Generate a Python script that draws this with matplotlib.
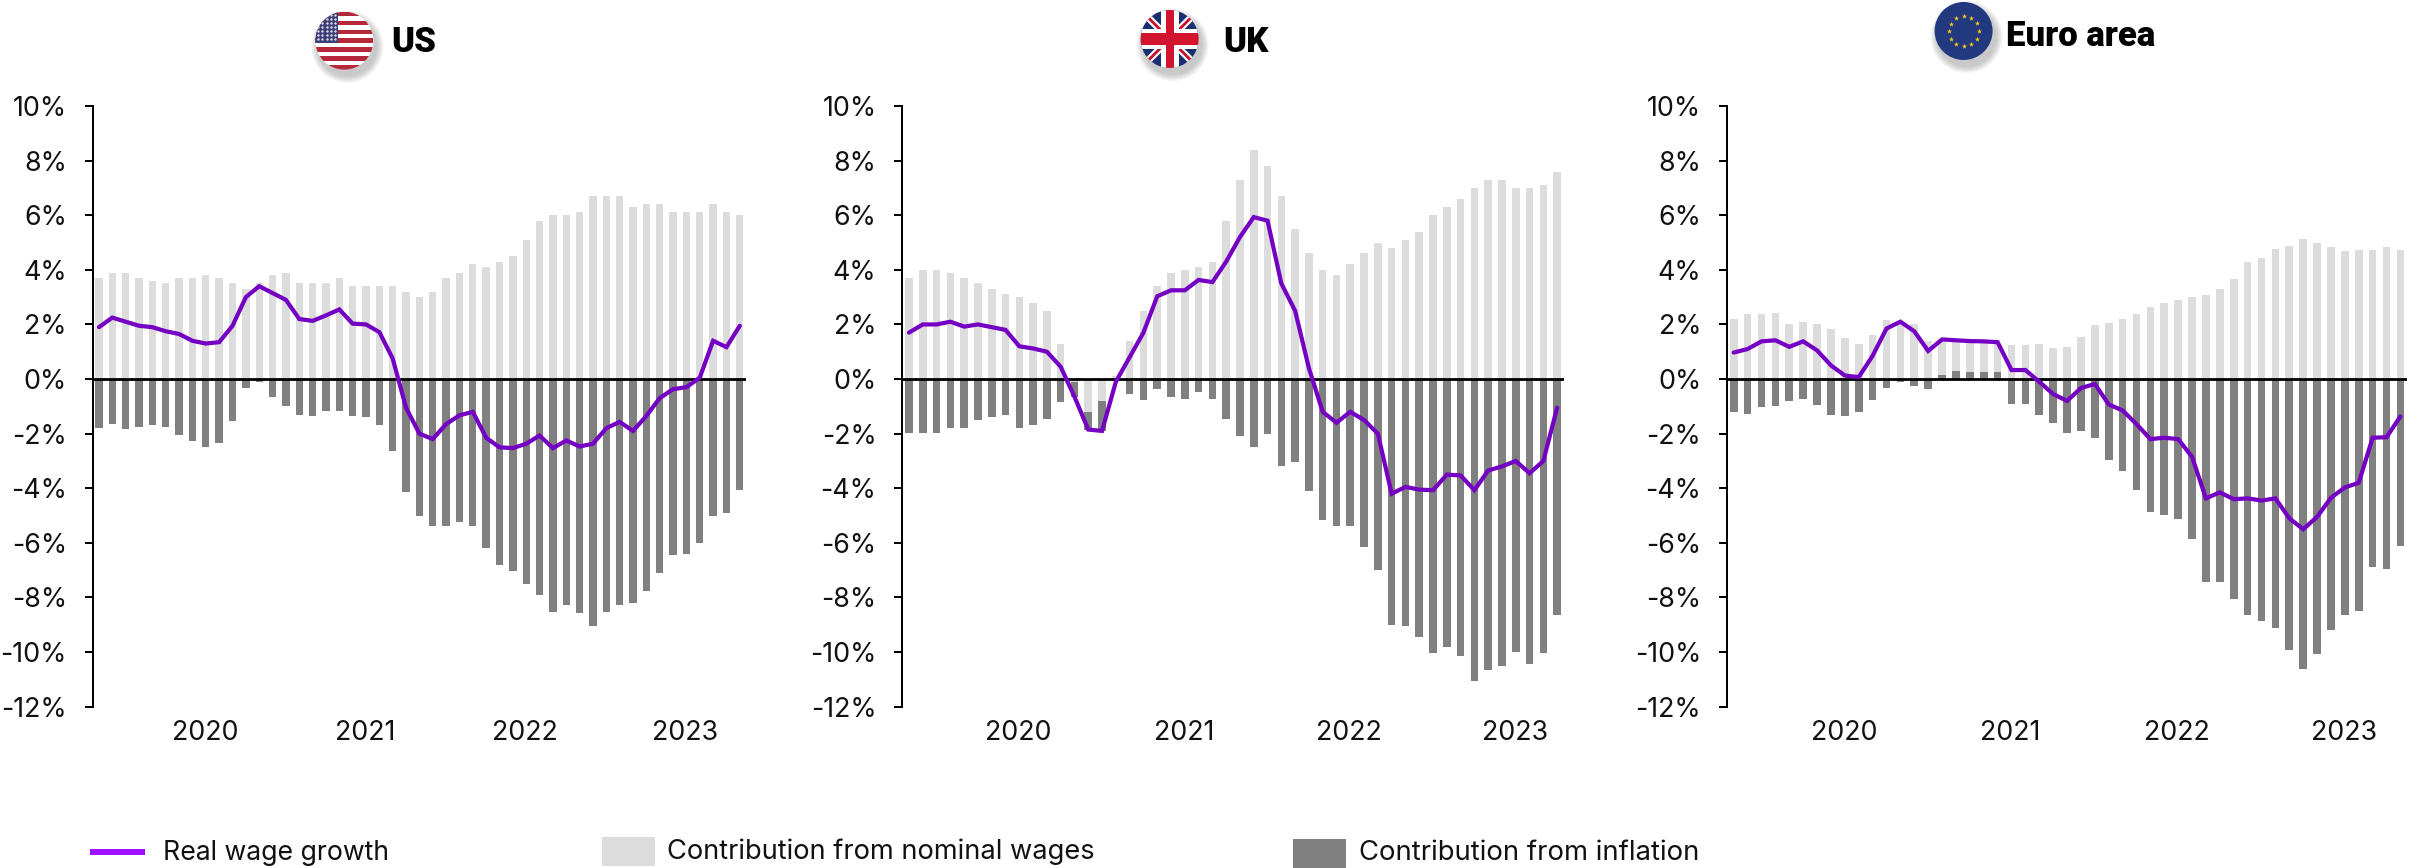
import math
import matplotlib
matplotlib.use("Agg")
import matplotlib.pyplot as plt
from matplotlib.patches import Circle, Rectangle, Polygon

plt.rcParams['font.family'] = ['Inter', 'DejaVu Sans']

W, H = 2417, 868

us_nominal = [3.7,3.9,3.9,3.7,3.6,3.5,3.7,3.7,3.8,3.7,3.5,3.3,3.5,3.8,3.9,3.5,3.5,3.5,3.7,3.4,3.4,3.4,3.4,3.2,3.0,
              3.2,3.7,3.9,4.2,4.1,4.3,4.5,5.1,5.8,6.0,6.0,6.1,6.7,6.7,6.7,6.3,6.4,6.4,6.1,6.1,6.1,6.4,6.1,6.0]
us_inflation = [-1.8,-1.65,-1.83,-1.77,-1.7,-1.77,-2.05,-2.28,-2.5,-2.33,-1.53,-0.32,-0.1,-0.64,-0.98,-1.3,-1.36,-1.17,-1.17,-1.35,
                -1.4,-1.68,-2.62,-4.15,-5.0,-5.4,-5.37,-5.25,-5.4,-6.2,-6.8,-7.03,-7.5,-7.9,-8.55,-8.27,-8.58,-9.05,-8.52,-8.27,
                -8.2,-7.75,-7.1,-6.45,-6.4,-6.0,-5.0,-4.92,-4.05]
us_real = [1.9,2.25,2.1,1.95,1.9,1.75,1.65,1.4,1.3,1.35,1.95,3.0,3.4,3.15,2.9,2.2,2.13,2.33,2.55,2.03,2.0,1.72,0.75,-1.05,-2.0,
           -2.2,-1.65,-1.33,-1.2,-2.15,-2.5,-2.53,-2.37,-2.07,-2.53,-2.25,-2.47,-2.37,-1.8,-1.57,-1.9,-1.35,-0.7,-0.37,-0.3,0.05,1.4,1.17,1.95]

uk_nominal = [3.7,4.0,4.0,3.9,3.7,3.5,3.3,3.1,3.0,2.8,2.5,1.3,-0.1,-1.2,-0.8,0.1,1.4,2.5,3.4,3.9,4.0,4.1,4.3,5.8,
              7.3,8.4,7.8,6.7,5.5,4.6,4.0,3.8,4.2,4.6,5.0,4.8,5.1,5.4,6.0,6.3,6.6,7.0,7.3,7.3,7.0,7.0,7.1,7.6]
uk_inflation = [-1.97,-1.97,-1.97,-1.78,-1.78,-1.5,-1.38,-1.3,-1.78,-1.68,-1.48,-0.83,-0.55,-0.65,-1.1,-0.05,-0.55,-0.75,-0.35,-0.65,-0.73,-0.47,-0.73,-1.48,
                -2.1,-2.5,-2.0,-3.2,-3.02,-4.1,-5.15,-5.4,-5.4,-6.15,-7.0,-9.0,-9.03,-9.45,-10.05,-9.8,-10.15,-11.05,-10.65,-10.5,-10.0,-10.45,-10.05,-8.65]
uk_real = [1.7,2.0,2.0,2.1,1.92,2.0,1.9,1.8,1.2,1.12,1.0,0.45,-0.65,-1.85,-1.9,-0.1,0.8,1.7,3.03,3.25,3.25,3.63,3.55,4.3,
           5.2,5.93,5.8,3.5,2.5,0.4,-1.2,-1.6,-1.2,-1.5,-2.0,-4.2,-3.95,-4.05,-4.07,-3.5,-3.53,-4.07,-3.35,-3.2,-3.0,-3.45,-3.0,-1.05]

ea_nominal = [2.2,2.38,2.38,2.42,2.03,2.1,2.03,1.82,1.5,1.3,1.6,2.15,2.1,2.03,1.4,1.45,1.35,1.35,1.35,1.3,1.25,1.25,1.28,1.12,1.17,
              1.55,1.98,2.05,2.2,2.37,2.63,2.8,2.88,3.02,3.07,3.3,3.65,4.28,4.43,4.78,4.88,5.13,5.0,4.85,4.7,4.73,4.73,4.85,4.73]
ea_inflation = [-1.2,-1.27,-1.02,-1.0,-0.82,-0.72,-0.95,-1.32,-1.37,-1.2,-0.75,-0.32,-0.1,-0.27,-0.38,0.15,0.3,0.25,0.25,0.25,
                -0.92,-0.93,-1.32,-1.62,-1.98,-1.9,-2.15,-2.95,-3.35,-4.05,-4.87,-4.97,-5.12,-5.87,-7.45,-7.45,-8.05,-8.65,-8.87,-9.13,
                -9.93,-10.63,-10.07,-9.2,-8.65,-8.5,-6.88,-6.95,-6.1]
ea_real = [0.97,1.1,1.38,1.42,1.18,1.38,1.05,0.5,0.13,0.07,0.85,1.85,2.1,1.75,1.03,1.45,1.42,1.39,1.38,1.35,0.33,0.33,-0.1,-0.55,-0.8,
           -0.33,-0.18,-0.93,-1.15,-1.65,-2.2,-2.15,-2.2,-2.85,-4.37,-4.15,-4.4,-4.37,-4.45,-4.37,-5.1,-5.5,-5.05,-4.35,-3.97,-3.8,-2.15,-2.13,-1.37]

years = ['2020', '2021', '2022', '2023']
year_pos = [7.93, 19.93, 31.93, 43.93]
y_ticks = [10, 8, 6, 4, 2, 0, -2, -4, -6, -8, -10, -12]
y_labels = [f'{v}%' for v in y_ticks]

LIGHT = '#DCDCDC'
DARK = '#808080'
PURPLE = '#7400C4'
LEGEND_PURPLE = '#A010FF'
TEXT = '#111111'

fig = plt.figure(figsize=(W / 100, H / 100), dpi=100)
fig.patch.set_facecolor('white')


def px(v):
    return v * 72 / 100


def panel(left, first, step, right, nominal, inflation, real):
    top, bottom = 106, 706.7
    ax = fig.add_axes([left / W, 1 - bottom / H, (right - left) / W, (bottom - top) / H])
    xs = list(range(len(nominal)))
    ax.set_xlim((left - first) / step, (right - first) / step)
    ax.set_ylim(-12, 10)
    ax.bar(xs, nominal, width=0.55, color=LIGHT, zorder=1)
    bottoms = [n if (n < 0 and i < 0) else 0 for n, i in zip(nominal, inflation)]
    ax.bar(xs, inflation, bottom=bottoms, width=0.55, color=DARK, zorder=2)
    ax.axhline(0, color='black', lw=px(2.8), zorder=3)
    ax.plot(xs, real, color=PURPLE, lw=px(4.2), zorder=4, solid_joinstyle='miter', solid_capstyle='round')
    for s in ('top', 'right', 'bottom'):
        ax.spines[s].set_visible(False)
    ax.spines['left'].set_linewidth(px(2))
    ax.set_yticks(y_ticks)
    ax.set_yticklabels(y_labels, fontsize=19.3, color=TEXT)
    ax.tick_params(axis='y', length=px(8.5), width=px(2), pad=px(17))
    ax.set_xticks(year_pos)
    ax.set_xticklabels(years, fontsize=19.3, color=TEXT)
    ax.tick_params(axis='x', length=0, pad=px(13))
    ax.patch.set_alpha(0)


panel(92.5, 99, 13.35, 746.2, us_nominal, us_inflation, us_real)
panel(902, 909, 13.79, 1563.6, uk_nominal, uk_inflation, uk_real)
panel(1726.7, 1733.7, 13.89, 2407, ea_nominal, ea_inflation, ea_real)

# overlay in pixel coordinates for titles, flags and legend
ov = fig.add_axes([0, 0, 1, 1], zorder=10)
ov.set_xlim(0, W)
ov.set_ylim(H, 0)
ov.axis('off')


def disc(cx, cy, r, base):
    for k in range(8, 0, -1):
        ov.add_patch(Circle((cx + 3, cy + 6), r + k * 0.9, color='#555555', alpha=0.045, lw=0))
    clip = Circle((cx, cy), r, transform=ov.transData, color=base, lw=0)
    ov.add_patch(clip)
    return clip


def add(p, clip):
    ov.add_patch(p)
    p.set_clip_path(clip)


def us_flag(cx, cy, r):
    clip = disc(cx, cy, r, 'white')
    h = 2 * r / 13
    for k in range(0, 13, 2):
        add(Rectangle((cx - r, cy - r + k * h), 2 * r, h, color='#B5283A', lw=0), clip)
    add(Rectangle((cx - r, cy - r), r * 0.8, 7 * h, color='#3C3F73', lw=0), clip)
    for row in range(7):
        for col in range(5):
            s = ov.scatter(cx - r + 3 + col * 4.2, cy - r + 3.5 + row * 4, s=3, color='#DDDDEE', lw=0, zorder=5)
            s.set_clip_path(clip)


def uk_flag(cx, cy, r):
    clip = disc(cx, cy, r, '#1B2F70')
    for sgn in (1, -1):
        add(Polygon([(cx - r, cy - sgn * (r - 5)), (cx - r + 5, cy - sgn * r), (cx + r, cy + sgn * (r - 5)), (cx + r - 5, cy + sgn * r)],
                    closed=True, color='white', lw=0), clip)
        add(Polygon([(cx - r, cy - sgn * (r - 2)), (cx - r + 2, cy - sgn * r), (cx + r, cy + sgn * (r - 2)), (cx + r - 2, cy + sgn * r)],
                    closed=True, color='#C8102E', lw=0), clip)
    add(Rectangle((cx - r, cy - 10), 2 * r, 20, color='white', lw=0), clip)
    add(Rectangle((cx - 9, cy - r), 18, 2 * r, color='white', lw=0), clip)
    add(Rectangle((cx - r, cy - 6), 2 * r, 12, color='#D2142E', lw=0), clip)
    add(Rectangle((cx - 4, cy - r), 8, 2 * r, color='#D2142E', lw=0), clip)


def eu_flag(cx, cy, r):
    disc(cx, cy, r, '#22397F')
    for k in range(12):
        a = math.radians(30 * k)
        ov.scatter(cx + 15 * math.cos(a), cy + 15 * math.sin(a), s=16, marker='*', color='#F2C81E', lw=0, zorder=5)


us_flag(344.3, 40.7, 29)
uk_flag(1169.6, 39, 29)
eu_flag(1963.6, 31, 29)

title_kw = dict(fontsize=25, fontweight='black', color='black', va='center', ha='left', family=['Roboto', 'DejaVu Sans'])
ov.text(391, 43, 'US', **title_kw)
ov.text(1223, 43, 'UK', **title_kw)
ov.text(2006, 36, 'Euro area', **title_kw)

ov.add_patch(Rectangle((90, 849), 55, 6, color=LEGEND_PURPLE, lw=0))
ov.add_patch(Rectangle((602, 836.7), 53, 29, color=LIGHT, lw=0))
ov.add_patch(Rectangle((1293, 839), 53, 29, color=DARK, lw=0))
ov.text(163.5, 853, 'Real wage growth', fontsize=19.2, color=TEXT, va='center', ha='left')
ov.text(667, 852, 'Contribution from nominal wages', fontsize=19.6, color=TEXT, va='center', ha='left')
ov.text(1359, 853, 'Contribution from inflation', fontsize=19.75, color=TEXT, va='center', ha='left')

fig.savefig('out.png', dpi=100)
